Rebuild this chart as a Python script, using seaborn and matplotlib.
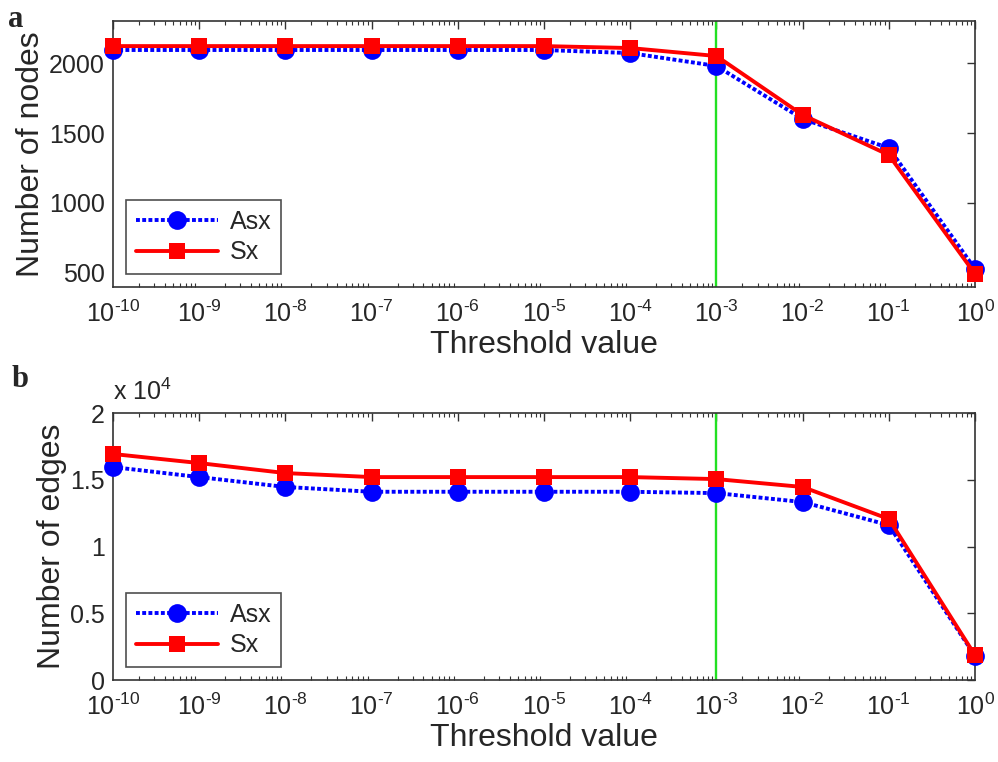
import numpy as np
import pandas as pd
import matplotlib
matplotlib.use("Agg")
import matplotlib.pyplot as plt
import seaborn as sns
from matplotlib.ticker import LogLocator, FixedLocator, NullFormatter

thresholds = [1e-10, 1e-9, 1e-8, 1e-7, 1e-6, 1e-5, 1e-4, 1e-3, 1e-2, 1e-1, 1e0]
nodes_asx = [2093, 2093, 2093, 2093, 2093, 2093, 2071, 1979, 1600, 1393, 529]
nodes_sx = [2121, 2121, 2121, 2121, 2121, 2121, 2107, 2050, 1629, 1343, 493]
edges_asx = [1.595e4, 1.52e4, 1.446e4, 1.41e4, 1.41e4, 1.41e4, 1.41e4, 1.40e4, 1.333e4, 1.16e4, 0.18e4]
edges_sx = [1.693e4, 1.625e4, 1.55e4, 1.52e4, 1.52e4, 1.52e4, 1.52e4, 1.505e4, 1.446e4, 1.206e4, 0.185e4]
series_names = ["Asx", "Sx"]
xtick_labels = [r"$10^{\text{%d}}$" % e for e in range(-10, 1)]
node_ticks = [500, 1000, 1500, 2000]
edge_ticks = [0, 0.5e4, 1e4, 1.5e4, 2e4]
edge_tick_labels = ["0", "0.5", "1", "1.5", "2"]

sns.set_theme(style="white")
plt.rcParams["font.family"] = ["Liberation Sans", "DejaVu Sans"]
plt.rcParams["mathtext.fontset"] = "custom"
plt.rcParams["mathtext.rm"] = "Liberation Sans"
plt.rcParams["mathtext.it"] = "Liberation Sans"
plt.rcParams["mathtext.default"] = "regular"

fig = plt.figure(figsize=(9.98, 7.62), dpi=100)
ax1 = fig.add_axes([0.1132, 0.6234, 0.8638, 0.349])
ax2 = fig.add_axes([0.1132, 0.1076, 0.8638, 0.3504])


def draw(ax, asx, sx, ylim, yticks, ylabels, ylabel):
    df_a = pd.DataFrame({"x": thresholds, "y": asx})
    df_s = pd.DataFrame({"x": thresholds, "y": sx})
    ax.axvline(1e-3, color="#22e022", lw=1.7, zorder=1)
    sns.lineplot(data=df_a, x="x", y="y", ax=ax, color="#0000ff", lw=2.8,
                 linestyle=(0, (1, 0.6)), marker="o", markersize=13.5,
                 markeredgewidth=0, label=series_names[0], clip_on=False, zorder=3)
    sns.lineplot(data=df_s, x="x", y="y", ax=ax, color="#ff0000", lw=2.8,
                 linestyle="-", marker="s", markersize=12,
                 markeredgewidth=0, label=series_names[1], clip_on=False, zorder=4)
    ax.set_xscale("log")
    ax.set_xlim(1e-10, 1e0)
    ax.set_ylim(*ylim)
    ax.xaxis.set_major_locator(FixedLocator(thresholds))
    ax.set_xticklabels(xtick_labels)
    ax.xaxis.set_minor_locator(LogLocator(base=10, subs=np.arange(2, 10), numticks=100))
    ax.xaxis.set_minor_formatter(NullFormatter())
    ax.set_yticks(yticks)
    ax.set_yticklabels(ylabels)
    ax.tick_params(axis="both", which="major", direction="in", length=6, width=1,
                   top=True, right=True, labelsize=18, pad=6, color="#333333")
    ax.tick_params(axis="x", which="minor", direction="in", length=3, width=0.8,
                   top=True, bottom=True, color="#333333")
    ax.tick_params(axis="x", which="major", pad=10)
    for s in ax.spines.values():
        s.set_color("#333333")
        s.set_linewidth(1.2)
    ax.set_xlabel("Threshold value", fontsize=23, labelpad=2)
    ax.set_ylabel(ylabel, fontsize=23, labelpad=2)
    leg = ax.legend(loc="lower left", bbox_to_anchor=(0.015, 0.047), fontsize=18,
                    frameon=True, fancybox=False, edgecolor="#222222",
                    handlelength=3.3, handletextpad=0.45, borderpad=0.4,
                    borderaxespad=0, labelspacing=0.25)
    leg.get_frame().set_linewidth(1.2)


draw(ax1, nodes_asx, nodes_sx, (400, 2300), node_ticks,
     [str(t) for t in node_ticks], "Number of nodes")
draw(ax2, edges_asx, edges_sx, (0, 2e4), edge_ticks, edge_tick_labels,
     "Number of edges")

ax2.text(0.0, 1.03, r"x $10^{4}$", transform=ax2.transAxes, fontsize=18,
         ha="left", va="bottom")
fig.text(0.008, 0.975, "a", fontsize=22, fontweight="bold",
         family="Liberation Serif", va="center")
fig.text(0.012, 0.502, "b", fontsize=22, fontweight="bold",
         family="Liberation Serif", va="center")

fig.savefig("out.png", dpi=100, facecolor="white")
